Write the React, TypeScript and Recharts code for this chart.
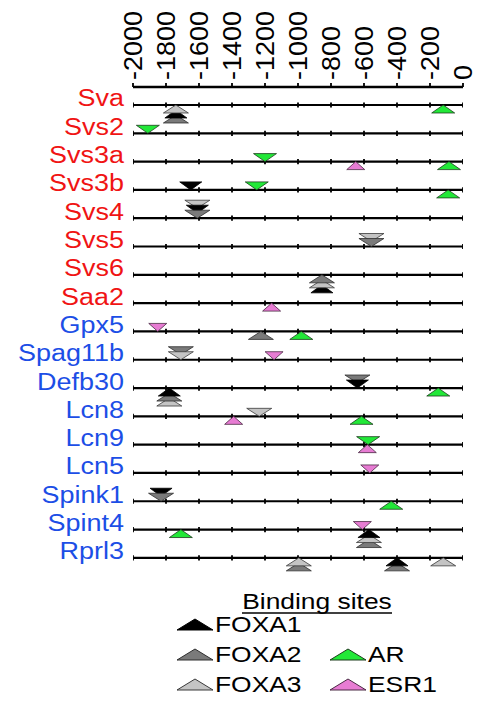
import { ScatterChart, Scatter, XAxis, YAxis, ReferenceLine } from "recharts";

// genes, top to bottom
const VESICLE_GENES = ["Sva", "Svs2", "Svs3a", "Svs3b", "Svs4", "Svs5", "Svs6", "Saa2"];
const EPIDIDYMIS_GENES = ["Gpx5", "Spag11b", "Defb30", "Lcn8", "Lcn9", "Lcn5", "Spink1", "Spint4", "Rprl3"];
const GENES = [...VESICLE_GENES, ...EPIDIDYMIS_GENES];

const POSITION_TICKS = [-2000, -1800, -1600, -1400, -1200, -1000, -800, -600, -400, -200, 0];

const FACTORS = ["FOXA1", "FOXA2", "FOXA3", "AR", "ESR1"];

// [gene, factor, position from TSS, strand]; sites on the same spot stack outward in listed order
const VESICLE_SITES: [string, string, number, string][] = [
  ["Sva", "FOXA3", -1740, "+"],
  ["Sva", "FOXA1", -1740, "+"],
  ["Sva", "FOXA2", -1740, "+"],
  ["Sva", "AR", -120, "+"],
  ["Svs2", "AR", -1910, "-"],
  ["Svs3a", "AR", -1200, "-"],
  ["Svs3a", "ESR1", -650, "+"],
  ["Svs3a", "AR", -85, "+"],
  ["Svs3b", "FOXA1", -1650, "-"],
  ["Svs3b", "AR", -1250, "-"],
  ["Svs3b", "AR", -90, "+"],
  ["Svs4", "FOXA2", -1610, "-"],
  ["Svs4", "FOXA1", -1610, "-"],
  ["Svs4", "FOXA3", -1610, "-"],
  ["Svs5", "FOXA2", -555, "-"],
  ["Svs5", "FOXA3", -555, "-"],
  ["Svs6", "FOXA2", -855, "+"],
  ["Svs6", "FOXA3", -855, "+"],
  ["Svs6", "FOXA1", -855, "+"],
  ["Saa2", "ESR1", -1160, "+"],
];

const EPIDIDYMIS_SITES: [string, string, number, string][] = [
  ["Gpx5", "ESR1", -1850, "-"],
  ["Gpx5", "FOXA2", -1225, "+"],
  ["Gpx5", "AR", -980, "+"],
  ["Spag11b", "FOXA3", -1710, "-"],
  ["Spag11b", "FOXA2", -1710, "-"],
  ["Spag11b", "ESR1", -1145, "-"],
  ["Defb30", "FOXA1", -640, "-"],
  ["Defb30", "FOXA2", -640, "-"],
  ["Defb30", "FOXA1", -1780, "+"],
  ["Defb30", "FOXA2", -1780, "+"],
  ["Defb30", "FOXA3", -1780, "+"],
  ["Defb30", "AR", -150, "+"],
  ["Lcn8", "ESR1", -1390, "+"],
  ["Lcn8", "FOXA3", -1235, "-"],
  ["Lcn8", "AR", -615, "+"],
  ["Lcn9", "AR", -575, "-"],
  ["Lcn9", "ESR1", -580, "+"],
  ["Lcn5", "ESR1", -565, "-"],
  ["Spink1", "FOXA2", -1830, "-"],
  ["Spink1", "FOXA1", -1830, "-"],
  ["Spink1", "AR", -435, "+"],
  ["Spint4", "ESR1", -610, "-"],
  ["Spint4", "AR", -1710, "+"],
  ["Spint4", "FOXA1", -570, "+"],
  ["Spint4", "FOXA3", -570, "+"],
  ["Spint4", "FOXA2", -570, "+"],
  ["Rprl3", "FOXA3", -995, "+"],
  ["Rprl3", "FOXA2", -995, "+"],
  ["Rprl3", "FOXA1", -400, "+"],
  ["Rprl3", "FOXA2", -400, "+"],
  ["Rprl3", "FOXA3", -120, "+"],
];

const FACTOR_STYLE: Record<string, { fill: string; stroke: string; w: number }> = {
  FOXA1: { fill: "#000000", stroke: "#000000", w: 22 },
  FOXA2: { fill: "#7a7a7a", stroke: "#2e2e2e", w: 25 },
  FOXA3: { fill: "#c4c4c4", stroke: "#3a3a3a", w: 25 },
  AR: { fill: "#22e838", stroke: "#1d3d1d", w: 23 },
  ESR1: { fill: "#e77cd3", stroke: "#4a2a44", w: 18 },
};

const RED = "#f01414";
const BLUE = "#1c4ee6";
const FONT = "Arial, 'Liberation Sans', Helvetica, sans-serif";
const TRI_H = 8;
const STACK_STEP = 5;

const ALL_SITES = [...VESICLE_SITES, ...EPIDIDYMIS_SITES];
const siteData = ALL_SITES.map(([gene, factor, pos, strand], i) => {
  const level = ALL_SITES.slice(0, i).filter(
    ([g, , p, s]) => g === gene && s === strand && Math.abs(p - pos) < 30
  ).length;
  return { x: pos, y: GENES.indexOf(gene), factor, strand, level };
}).sort((a, b) => b.level - a.level);

const gridTickData = GENES.flatMap((_, gi) => POSITION_TICKS.map((t) => ({ x: t, y: gi })));

const SiteMark = (props: any) => {
  const { cx, cy, payload } = props;
  if (cx == null || cy == null) return null;
  const st = FACTOR_STYLE[payload.factor];
  const dir = payload.strand === "+" ? 1 : -1;
  const tip = cy + dir * payload.level * STACK_STEP;
  const base = tip + dir * TRI_H;
  const hw = st.w / 2;
  return (
    <polygon
      points={`${cx},${tip} ${cx - hw},${base} ${cx + hw},${base}`}
      fill={st.fill}
      stroke={st.stroke}
      strokeWidth={0.8}
    />
  );
};

const GridTick = (props: any) => {
  const { cx, cy } = props;
  if (cx == null || cy == null) return null;
  return <line x1={cx} x2={cx} y1={cy - 2.6} y2={cy + 2.6} stroke="#000" strokeWidth={1.8} />;
};

const PositionTick = (props: any) => {
  const { x, y, payload } = props;
  return (
    <g transform={`translate(${x},${y}) rotate(-90) scale(1.08,1.02)`}>
      <text x={0} y={0} dy="0.36em" textAnchor="start" fontSize={25} fontFamily={FONT} fill="#000">
        {payload.value}
      </text>
    </g>
  );
};

const GeneTick = (props: any) => {
  const { x, y, payload } = props;
  const gene = GENES[payload.value];
  const color = VESICLE_GENES.includes(gene) ? RED : BLUE;
  return (
    <g transform={`translate(${x},${y + 1.5}) scale(1.1,1)`}>
      <text x={0} y={0} textAnchor="end" fontSize={24.5} fontFamily={FONT} fill={color}>
        {gene}
      </text>
    </g>
  );
};

const LegendText = ({ x, y, children }: { x: number; y: number; children: string }) => (
  <g transform={`translate(${x},${y}) scale(1.2,1)`}>
    <text x={0} y={0} fontSize={22} fontFamily={FONT} fill="#000">
      {children}
    </text>
  </g>
);

const LegendTri = ({ x, y, factor }: { x: number; y: number; factor: string }) => {
  const st = FACTOR_STYLE[factor];
  return (
    <polygon
      points={`${x + 18},${y - 11} ${x},${y} ${x + 36},${y}`}
      fill={st.fill}
      stroke={st.stroke}
      strokeWidth={1}
    />
  );
};

const LEGEND_SLOTS: Record<string, [number, number]> = {
  FOXA1: [169, 623],
  FOXA2: [169, 653],
  FOXA3: [169, 683],
  AR: [322, 653],
  ESR1: [322, 683],
};

const Y_MIN = -0.6358;
const Y_MAX = 16.5;

export default function App() {
  return (
    <div style={{ position: "relative", width: 467, height: 691 }}>
      <ScatterChart
        width={467}
        height={584}
        margin={{ top: 4, right: 12, bottom: 20, left: 0 }}
        style={{ overflow: "visible" }}
      >
        <XAxis
          type="number"
          dataKey="x"
          orientation="top"
          domain={[-2000, 0]}
          allowDataOverflow
          ticks={POSITION_TICKS}
          interval={0}
          height={75}
          tickSize={4}
          tickMargin={3}
          tick={<PositionTick />}
          axisLine={{ stroke: "#000", strokeWidth: 2.5 }}
          tickLine={{ stroke: "#000", strokeWidth: 1.8 }}
        />
        <YAxis
          type="number"
          dataKey="y"
          reversed
          domain={[Y_MIN, Y_MAX]}
          allowDataOverflow
          ticks={GENES.map((_, i) => i)}
          interval={0}
          width={125}
          tickSize={0}
          tickMargin={9}
          axisLine={false}
          tickLine={false}
          tick={<GeneTick />}
        />
        {GENES.map((g, i) => (
          <ReferenceLine key={g} y={i} stroke="#000" strokeWidth={2.2} ifOverflow="visible" />
        ))}
        <Scatter data={gridTickData} shape={<GridTick />} isAnimationActive={false} />
        <Scatter data={siteData} shape={<SiteMark />} isAnimationActive={false} />
      </ScatterChart>
      <svg
        width={467}
        height={691}
        style={{ position: "absolute", left: 0, top: 0, pointerEvents: "none" }}
      >
        <g transform="translate(309,601) scale(1.2,1)">
          <text x={0} y={0} textAnchor="middle" fontSize={22} fontFamily={FONT} fill="#000">
            Binding sites
          </text>
        </g>
        <line x1={234} x2={384} y1={605} y2={605} stroke="#000" strokeWidth={1.5} />
        {FACTORS.map((f) => {
          const [lx, ly] = LEGEND_SLOTS[f];
          return (
            <g key={f}>
              <LegendTri x={lx} y={ly - 1} factor={f} />
              <LegendText x={lx + 38} y={ly + 1}>
                {f}
              </LegendText>
            </g>
          );
        })}
      </svg>
    </div>
  );
}
